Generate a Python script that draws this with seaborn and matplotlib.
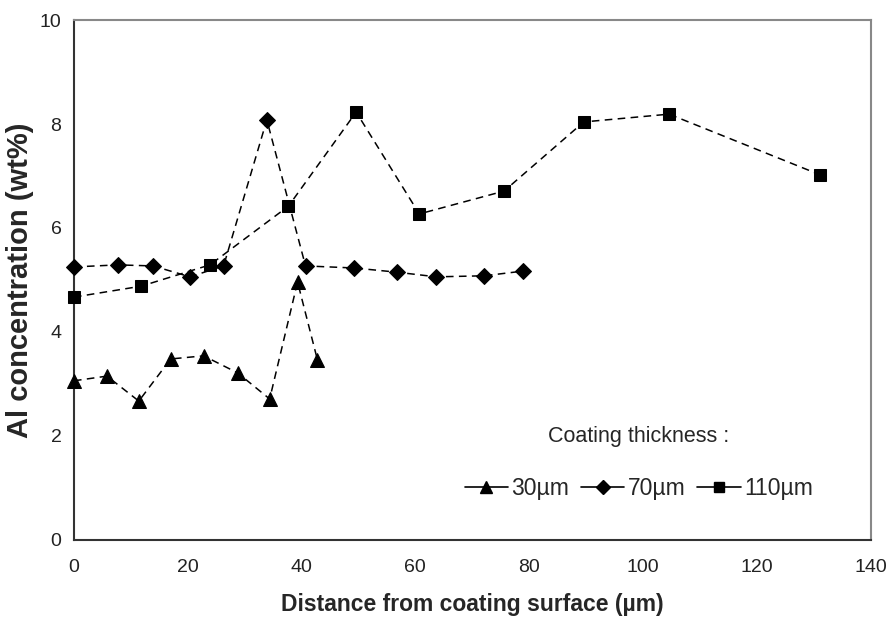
import matplotlib
matplotlib.use("Agg")
import matplotlib.pyplot as plt
from matplotlib.lines import Line2D
import seaborn as sns

# values
x_30 = [0, 5.8, 11.4, 17, 22.8, 28.8, 34.4, 39.3, 42.8]
y_30 = [3.06, 3.15, 2.67, 3.48, 3.54, 3.21, 2.71, 4.96, 3.46]

x_70 = [0, 7.7, 13.9, 20.4, 26.3, 33.9, 40.7, 49.3, 56.7, 63.7, 72.1, 78.9]
y_70 = [5.25, 5.29, 5.27, 5.06, 5.27, 8.08, 5.27, 5.23, 5.15, 5.06, 5.08, 5.17]

x_110 = [0, 11.8, 23.9, 37.7, 49.6, 60.7, 75.6, 89.6, 104.6, 131.2]
y_110 = [4.67, 4.88, 5.29, 6.42, 8.23, 6.27, 6.71, 8.04, 8.19, 7.02]

labels = ["30\u00b5m", "70\u00b5m", "110\u00b5m"]
x_ticks = [0, 20, 40, 60, 80, 100, 120, 140]
y_ticks = [0, 2, 4, 6, 8, 10]

sns.set_style("white")
plt.rcParams['font.family'] = ['Liberation Sans', 'DejaVu Sans']

fig = plt.figure(figsize=(8.91, 6.27), dpi=100)
ax = fig.add_axes([0.083, 0.139, 0.894, 0.829])

series = [(x_30, y_30, '^', 10), (x_70, y_70, 'D', 8), (x_110, y_110, 's', 8)]
for xs, ys, mk, ms in series:
    sns.lineplot(x=xs, y=ys, ax=ax, color='black', linestyle=(0, (5, 3.5)),
                 linewidth=1.1, marker=mk, markersize=ms, markeredgecolor='black',
                 sort=False, clip_on=False, zorder=3)

ax.set_xlim(0, 140)
ax.set_ylim(0, 10)
ax.set_xticks(x_ticks)
ax.set_yticks(y_ticks)
ax.tick_params(axis='both', direction='out', length=4, width=1, labelsize=14,
               color='#333333', labelcolor='#222222')
ax.tick_params(axis='x', pad=10)
ax.tick_params(axis='y', pad=5)
ax.set_xlabel("Distance from coating surface (\u00b5m)", fontsize=16.5,
              fontweight='bold', labelpad=12)
ax.set_ylabel("Al concentration (wt%)", fontsize=21, fontweight='bold', labelpad=4)

for side in ['left', 'bottom']:
    ax.spines[side].set_color('#333333')
    ax.spines[side].set_linewidth(1.5)
for side in ['top', 'right']:
    ax.spines[side].set_color('#888888')
    ax.spines[side].set_linewidth(1.5)

handles = [Line2D([], [], color='black', linewidth=1.2, marker=mk, markersize=ms * 0.85)
           for _, _, mk, ms in series]
leg = ax.legend(handles, labels, title="Coating thickness :", ncol=3, frameon=False,
                loc='center', bbox_to_anchor=(0.709, 0.148), fontsize=16.5,
                title_fontsize=15.5, handlelength=1.9, handletextpad=0.15,
                columnspacing=0.5)
leg._legend_box.sep = 22

fig.savefig("out.png", dpi=100)
